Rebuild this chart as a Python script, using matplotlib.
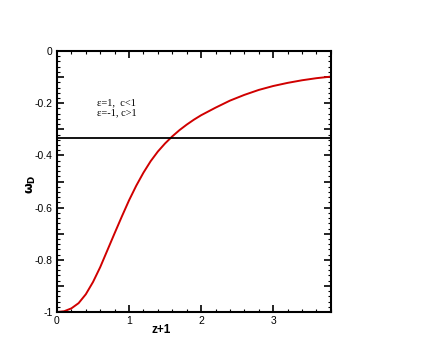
import numpy as np
import matplotlib.pyplot as plt
from matplotlib.ticker import MultipleLocator, FuncFormatter

# values
z1 = [0.0, 0.1, 0.2, 0.3, 0.4, 0.5, 0.6, 0.7, 0.8, 0.9, 1.0, 1.1, 1.2, 1.3,
      1.4, 1.5, 1.6, 1.7, 1.8, 1.9, 2.0, 2.2, 2.4, 2.6, 2.8, 3.0, 3.2, 3.4,
      3.6, 3.8]
w_d = [-1.0, -0.997, -0.986, -0.966, -0.932, -0.885, -0.828, -0.763, -0.698,
       -0.634, -0.572, -0.516, -0.466, -0.422, -0.385, -0.354, -0.327, -0.303,
       -0.282, -0.263, -0.246, -0.217, -0.19, -0.168, -0.149, -0.134, -0.122,
       -0.112, -0.104, -0.098]
w_line = -1.0 / 3.0

plt.rcParams["font.family"] = ["Liberation Sans", "DejaVu Sans"]

fig = plt.figure(figsize=(4.36, 3.57), dpi=100)
ax = fig.add_axes([0.1307, 0.126, 0.628, 0.731])

ax.plot(z1, w_d, color="#d00000", linewidth=1.4)
ax.axhline(w_line, color="black", linewidth=1.3)

ax.set_xlim(0, 3.8)
ax.set_ylim(-1.0, 0.0)

ax.xaxis.set_major_locator(MultipleLocator(1))
ax.xaxis.set_minor_locator(MultipleLocator(0.2))
ax.yaxis.set_major_locator(MultipleLocator(0.1))
ax.yaxis.set_minor_locator(MultipleLocator(0.02))


def ylab(v, pos):
    k = int(round(v * 10))
    if k % 2:
        return ""
    if k == 0:
        return "0"
    if k == -10:
        return "-1"
    return f"{v:.1f}"


ax.yaxis.set_major_formatter(FuncFormatter(ylab))
ax.tick_params(which="both", direction="in", top=True, right=True, width=1.2,
               labelsize=7.5, pad=3)
ax.tick_params(which="major", length=5)
ax.tick_params(which="minor", length=2.5, width=0.8)
for s in ax.spines.values():
    s.set_linewidth(1.5)

ax.text(0.55, -0.197, "ε=1,  c<1", family="Liberation Serif", fontsize=7.5,
        va="center")
ax.text(0.55, -0.236, "ε=-1, c>1", family="Liberation Serif", fontsize=7.5,
        va="center")

ax.set_xlabel("z+1", fontsize=8.5, fontweight="bold")
ax.xaxis.set_label_coords(0.38, -0.045)
ax.set_ylabel(r"$\mathbf{\omega_D}$", fontsize=9)
ax.yaxis.set_label_coords(-0.07, 0.49)

fig.savefig("out.png", dpi=100)
